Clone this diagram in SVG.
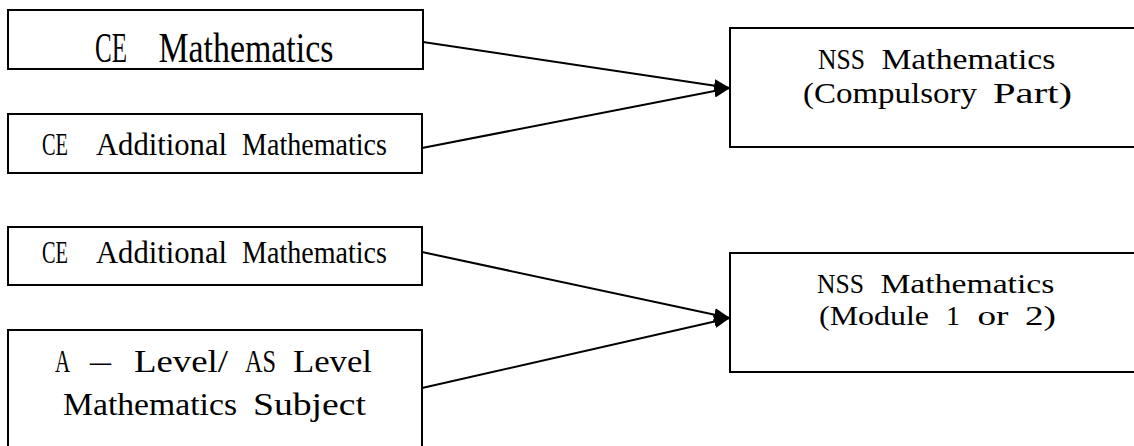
<svg xmlns="http://www.w3.org/2000/svg" width="1134" height="446" viewBox="0 0 1134 446">
  <style>
    .box { fill: #ffffff; stroke: #000000; stroke-width: 2; }
    .t { font-family: "Liberation Serif", "Noto Sans CJK TC", serif; fill: #000000; }
    .big { font-size: 42px; }
    .mid { font-size: 32px; }
    .nss1 { font-size: 30px; }
    .nss2 { font-size: 28px; }
    .edge { fill: none; stroke: #000000; stroke-width: 2; }
  </style>
  <defs>
    <marker id="arrow" markerUnits="userSpaceOnUse" markerWidth="18" markerHeight="14" refX="16" refY="6.5" orient="auto">
      <path d="M0,0 L16,6.5 L0,13 z" fill="#000000"/>
    </marker>
  </defs>
  <rect x="0" y="0" width="1134" height="446" fill="#ffffff"/>

  <g id="node-ce-math">
    <rect class="box" x="8" y="10" width="415" height="59"/>
    <text class="t big" y="61.5"><tspan x="95" textLength="32" lengthAdjust="spacingAndGlyphs">CE</tspan> <tspan x="158.4" textLength="175" lengthAdjust="spacingAndGlyphs">Mathematics</tspan></text>
  </g>

  <g id="node-ce-addmath-1">
    <rect class="box" x="8" y="114" width="414" height="59"/>
    <text class="t mid" y="155"><tspan x="42" textLength="26" lengthAdjust="spacingAndGlyphs">CE</tspan> <tspan x="96" textLength="131" lengthAdjust="spacingAndGlyphs">Additional</tspan> <tspan x="242" textLength="145" lengthAdjust="spacingAndGlyphs">Mathematics</tspan></text>
  </g>

  <g id="node-ce-addmath-2">
    <rect class="box" x="8" y="227" width="414" height="58"/>
    <text class="t mid" y="263"><tspan x="42" textLength="26" lengthAdjust="spacingAndGlyphs">CE</tspan> <tspan x="96" textLength="131" lengthAdjust="spacingAndGlyphs">Additional</tspan> <tspan x="242" textLength="145" lengthAdjust="spacingAndGlyphs">Mathematics</tspan></text>
  </g>

  <g id="node-alevel">
    <rect class="box" x="8" y="330" width="414" height="130"/>
    <text class="t mid" y="372"><tspan x="55" textLength="14" lengthAdjust="spacingAndGlyphs">A</tspan> <tspan x="90" textLength="21" lengthAdjust="spacingAndGlyphs">–</tspan> <tspan x="134" textLength="94" lengthAdjust="spacingAndGlyphs">Level/</tspan> <tspan x="245" textLength="31" lengthAdjust="spacingAndGlyphs">AS</tspan> <tspan x="293" textLength="79" lengthAdjust="spacingAndGlyphs">Level</tspan></text>
    <text class="t mid" y="415"><tspan x="63" textLength="174" lengthAdjust="spacingAndGlyphs">Mathematics</tspan> <tspan x="253" textLength="113" lengthAdjust="spacingAndGlyphs">Subject</tspan></text>
  </g>

  <g id="node-nss-compulsory">
    <rect class="box" x="730" y="28" width="420" height="119"/>
    <text class="t nss1" y="69"><tspan x="818" textLength="47" lengthAdjust="spacingAndGlyphs">NSS</tspan> <tspan x="881.4" textLength="174" lengthAdjust="spacingAndGlyphs">Mathematics</tspan></text>
    <text class="t nss1" y="103"><tspan x="803" textLength="174" lengthAdjust="spacingAndGlyphs">(Compulsory</tspan> <tspan x="993" textLength="79" lengthAdjust="spacingAndGlyphs">Part)</tspan></text>
  </g>

  <g id="node-nss-module">
    <rect class="box" x="730" y="253" width="420" height="119"/>
    <text class="t nss2" y="293"><tspan x="817" textLength="47" lengthAdjust="spacingAndGlyphs">NSS</tspan> <tspan x="880.4" textLength="174" lengthAdjust="spacingAndGlyphs">Mathematics</tspan></text>
    <text class="t nss2" y="325"><tspan x="819" textLength="110" lengthAdjust="spacingAndGlyphs">(Module</tspan> <tspan x="946">1</tspan> <tspan x="977.5" textLength="31" lengthAdjust="spacingAndGlyphs">or</tspan> <tspan x="1025" textLength="31" lengthAdjust="spacingAndGlyphs">2)</tspan></text>
  </g>

  <g id="connectors">
    <line class="edge" x1="423" y1="42" x2="730" y2="88" marker-end="url(#arrow)"/>
    <line class="edge" x1="422" y1="148" x2="730" y2="88" marker-end="url(#arrow)"/>
    <line class="edge" x1="422" y1="252" x2="730" y2="318" marker-end="url(#arrow)"/>
    <line class="edge" x1="422" y1="388" x2="730" y2="318" marker-end="url(#arrow)"/>
  </g>
</svg>
